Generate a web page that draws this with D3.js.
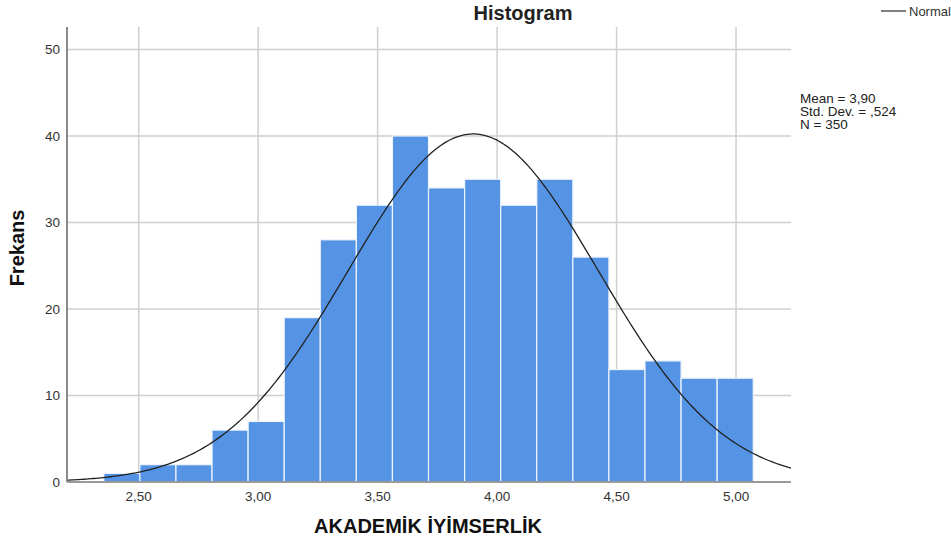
<!DOCTYPE html>
<html>
<head>
<meta charset="utf-8">
<script src="https://cdn.jsdelivr.net/npm/d3@7"></script>
<style>
  body { margin: 0; background: #fff; }
  text { font-family: "Liberation Sans", Arial, sans-serif; }
</style>
</head>
<body>
<div id="chart"></div>
<script>
// histogram data
var binStart = 2.354;
var binWidth = 0.151;
var counts = [1, 2, 2, 6, 7, 19, 28, 32, 40, 34, 35, 32, 35, 26, 13, 14, 12, 12];
var xTicks = [2.5, 3.0, 3.5, 4.0, 4.5, 5.0];
var yTicks = [0, 10, 20, 30, 40, 50];
var statLines = ["Mean = 3,90", "Std. Dev. = ,524", "N = 350"];
var mean = 3.90, sd = 0.524, n = 350;

!function () {
    var width = 951, height = 546;
    var svg = d3.select("#chart").append("svg")
        .attr("width", width)
        .attr("height", height);

    var pLeft = 67, pRight = 791, pTop = 27, pBottom = 482;
    var x = d3.scaleLinear().domain([2.2, 5.23]).range([pLeft, pRight]);
    var y = d3.scaleLinear().domain([0, 52.6]).range([pBottom, pTop]);

    // gridlines
    var grid = svg.append("g").attr("class", "grid");
    grid.selectAll("line.v").data(xTicks).enter().append("line")
        .attr("x1", function (d) { return x(d); })
        .attr("x2", function (d) { return x(d); })
        .attr("y1", pTop).attr("y2", pBottom)
        .attr("stroke", "#cfcfcf").attr("stroke-width", 1.5);
    grid.selectAll("line.h").data(yTicks.slice(1)).enter().append("line")
        .attr("x1", pLeft).attr("x2", pRight)
        .attr("y1", function (d) { return y(d); })
        .attr("y2", function (d) { return y(d); })
        .attr("stroke", "#cfcfcf").attr("stroke-width", 1.5);

    // bars
    var bins = counts.map(function (c, i) {
        return { x0: binStart + i * binWidth, x1: binStart + (i + 1) * binWidth, c: c };
    });
    svg.append("g").selectAll("rect").data(bins).enter().append("rect")
        .attr("x", function (d) { return x(d.x0); })
        .attr("width", function (d) { return x(d.x1) - x(d.x0); })
        .attr("y", function (d) { return y(d.c); })
        .attr("height", function (d) { return y(0) - y(d.c); })
        .attr("fill", "#5594e4")
        .attr("stroke", "#eef4fc")
        .attr("stroke-width", 1.2);

    // normal curve
    svg.append("clipPath").attr("id", "plotclip")
        .append("rect").attr("x", pLeft).attr("y", pTop)
        .attr("width", pRight - pLeft).attr("height", pBottom - pTop);
    var pts = d3.range(0, 301).map(function (i) {
        var v = 2.2 + (5.23 - 2.2) * i / 300;
        var z = (v - mean) / sd;
        return [v, n * binWidth / (sd * Math.sqrt(2 * Math.PI)) * Math.exp(-0.5 * z * z)];
    });
    svg.append("path")
        .datum(pts)
        .attr("clip-path", "url(#plotclip)")
        .attr("fill", "none")
        .attr("stroke", "#222")
        .attr("stroke-width", 1.3)
        .attr("d", d3.line().x(function (d) { return x(d[0]); }).y(function (d) { return y(d[1]); }));

    // axis lines
    svg.append("line").attr("x1", pLeft).attr("x2", pRight).attr("y1", pBottom).attr("y2", pBottom)
        .attr("stroke", "#9a9a9a").attr("stroke-width", 2);
    svg.append("line").attr("x1", pLeft).attr("x2", pLeft).attr("y1", pTop).attr("y2", pBottom)
        .attr("stroke", "#8a8a8a").attr("stroke-width", 2);

    // tick labels
    svg.append("g").selectAll("text").data(xTicks).enter().append("text")
        .attr("x", function (d) { return x(d); })
        .attr("y", 501)
        .attr("text-anchor", "middle")
        .attr("font-size", "13.5px")
        .attr("fill", "#333")
        .text(function (d) { return d3.format(".2f")(d).replace(".", ","); });
    svg.append("g").selectAll("text").data(yTicks).enter().append("text")
        .attr("x", 60)
        .attr("y", function (d) { return y(d) + 5; })
        .attr("text-anchor", "end")
        .attr("font-size", "13.5px")
        .attr("fill", "#333")
        .text(function (d) { return d; });

    // titles
    svg.append("text").attr("x", 523).attr("y", 20)
        .attr("text-anchor", "middle").attr("font-size", "20px").attr("font-weight", "bold")
        .attr("fill", "#222").text("Histogram");
    svg.append("text").attr("x", 428).attr("y", 533)
        .attr("text-anchor", "middle").attr("font-size", "20px").attr("font-weight", "bold")
        .attr("fill", "#111").text("AKADEMİK İYİMSERLİK");
    svg.append("text").attr("transform", "translate(24,248) rotate(-90)")
        .attr("text-anchor", "middle").attr("font-size", "20px").attr("font-weight", "bold")
        .attr("fill", "#111").text("Frekans");

    // legend
    svg.append("line").attr("x1", 881).attr("x2", 906).attr("y1", 11).attr("y2", 11)
        .attr("stroke", "#555").attr("stroke-width", 1.5);
    svg.append("text").attr("x", 909).attr("y", 15.5).attr("font-size", "13px")
        .attr("fill", "#333").text("Normal");

    // stats text
    svg.append("g").selectAll("text").data(statLines).enter().append("text")
        .attr("x", 800)
        .attr("y", function (d, i) { return 103 + i * 13; })
        .attr("font-size", "13.5px")
        .attr("fill", "#222")
        .text(function (d) { return d; });
}();
</script>
</body>
</html>
